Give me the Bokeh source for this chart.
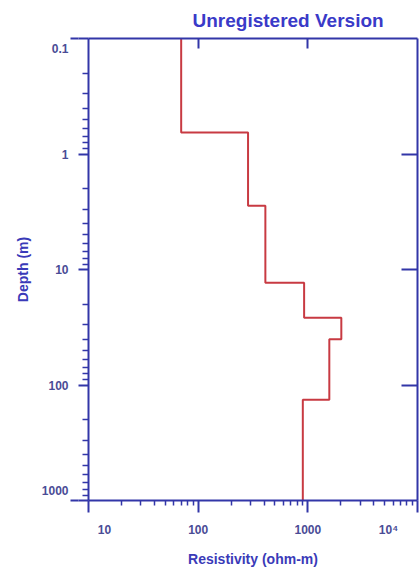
import math
from bokeh.plotting import figure
from bokeh.models import Range1d, FixedTicker, LogAxis, LinearAxis, LinearScale
from bokeh.embed import file_html
from bokeh.resources import INLINE

# Layered earth model: resistivity per layer and depth of each layer base (m)
resistivity = [70, 285, 410, 925, 2020, 1570, 900]
layer_base = [0.65, 2.8, 13.0, 26.2, 40.1, 134.0]
depth_top, depth_bottom = 0.1, 1000.0
res_min, res_max = 10, 10000

# Axis ticks and tick labels
x_major = [10, 100, 1000, 10000]
x_minor = [m * d for d in (10, 100, 1000) for m in range(2, 10)]
x_labels = ["10", "100", "1000", "10\u2074"]
y_major = [0.1, 1, 10, 100, 1000]
y_minor = [round(m * d, 3) for d in (0.1, 1, 10, 100) for m in range(2, 10)]
y_labels = ["0.1", "1", "10", "100", "1000"]

AXIS = "#3236a8"
TICKLBL = "#4a4c96"
TITLE = "#3a3ab8"
RED = "#c83a42"
FONT = "Liberation Sans"

# Frame size in pixels, used to nudge the end labels inward
FRAME_W, FRAME_H = 329, 462
x_dec_px = FRAME_W / math.log10(res_max / res_min)
y_dec_px = FRAME_H / math.log10(depth_bottom / depth_top)

# Step profile: each layer is a vertical segment from its top to its base
tops = [depth_top] + layer_base
bases = layer_base + [depth_bottom]
xs, ys = [], []
for rho, t, b in zip(resistivity, tops, bases):
    xs += [rho, rho]
    ys += [t, b]

lx0, lx1 = math.log10(res_min), math.log10(res_max)
ly0, ly1 = math.log10(depth_top), math.log10(depth_bottom)

p = figure(width=419, height=569, output_backend="svg", toolbar_location=None,
           x_axis_type="log", y_axis_type="log",
           x_range=Range1d(res_min, res_max),
           y_range=Range1d(depth_bottom, depth_top),
           min_border_left=88, min_border_right=2, min_border_top=38,
           min_border_bottom=69)
# decade-unit (linear) ranges that carry the tick labels
p.extra_x_ranges = {"dec": Range1d(lx0, lx1)}
p.extra_y_ranges = {"dec": Range1d(ly1, ly0)}
p.extra_x_scales = {"dec": LinearScale()}
p.extra_y_scales = {"dec": LinearScale()}
p.outline_line_color = None
p.xgrid.visible = False
p.ygrid.visible = False
p.background_fill_color = "white"
p.border_fill_color = "white"

# Watermark along the top edge
p.title.text = "Unregistered Version"
p.title.align = "left"
p.title.offset = 104
p.title.standoff = 15
p.title.text_font = FONT
p.title.text_font_style = "bold"
p.title.text_font_size = "19px"
p.title.text_color = "#3a3ac8"

p.line(xs, ys, line_color=RED, line_width=2)


def style(ax):
    ax.axis_line_color = AXIS
    ax.axis_line_width = 2
    ax.major_tick_line_color = AXIS
    ax.minor_tick_line_color = AXIS
    ax.major_tick_line_width = 2
    ax.minor_tick_line_width = 1.5
    ax.major_label_text_font = FONT
    ax.major_label_text_font_style = "bold"
    ax.major_label_text_font_size = "12px"
    ax.major_label_text_color = TICKLBL
    ax.axis_label_text_font = FONT
    ax.axis_label_text_font_style = "bold"
    ax.axis_label_text_font_size = "14px"
    ax.axis_label_text_color = TITLE


def ticks_only(ax):
    ax.major_label_overrides = {t: "" for t in ax.ticker.ticks}
    ax.major_label_text_font_size = "0px"
    ax.major_label_standoff = 0


def labels_only(ax, labels, standoff):
    ax.axis_line_color = None
    ax.major_tick_line_color = None
    ax.major_tick_in = ax.major_tick_out = 0
    ax.major_label_overrides = dict(zip(ax.ticker.ticks, labels))
    ax.major_label_standoff = standoff


# Bottom axis: line and ticks
xa = p.xaxis[0]
style(xa)
xa.ticker = FixedTicker(ticks=x_major, minor_ticks=x_minor)
ticks_only(xa)
xa.major_tick_in, xa.major_tick_out = 0, 12
xa.minor_tick_in, xa.minor_tick_out = 0, 5

# Bottom labels; the two end labels are pulled in from the corners
x_pos = [math.log10(v) for v in x_major]
x_pos[0] += 16 / x_dec_px
x_pos[-1] -= 29 / x_dec_px
xl = LinearAxis(x_range_name="dec", ticker=FixedTicker(ticks=x_pos, minor_ticks=[]))
style(xl)
labels_only(xl, x_labels, 10)
xl.minor_tick_in = xl.minor_tick_out = 0
xl.axis_label = "Resistivity (ohm-m)"
xl.axis_label_standoff = 11
p.add_layout(xl, "below")

# Left axis: line and ticks
ya = p.yaxis[0]
style(ya)
ya.ticker = FixedTicker(ticks=y_major, minor_ticks=y_minor)
ticks_only(ya)
ya.major_tick_in, ya.major_tick_out = 0, 10
ya.minor_tick_in, ya.minor_tick_out = 0, 6

# Left labels; end labels pulled in, corner ticks extended outward
y_pos = [math.log10(v) for v in y_major]
y_pos[0] += 10 / y_dec_px
y_pos[-1] -= 10 / y_dec_px
yl = LinearAxis(y_range_name="dec",
                ticker=FixedTicker(ticks=y_pos, minor_ticks=[ly0, ly1]))
style(yl)
labels_only(yl, y_labels, 2)
yl.minor_tick_line_width = 2
yl.minor_tick_in, yl.minor_tick_out = 0, 8
yl.axis_label = "Depth (m)"
yl.axis_label_standoff = 8
p.add_layout(yl, "left")

# Top axis: inward ticks only
top = LogAxis(ticker=FixedTicker(ticks=[100, 1000], minor_ticks=[]))
style(top)
ticks_only(top)
top.major_tick_in, top.major_tick_out = 10, 0
top.minor_tick_in, top.minor_tick_out = 0, 0
p.add_layout(top, "above")

# Right axis: inward ticks only
right = LogAxis(ticker=FixedTicker(ticks=[1, 10, 100], minor_ticks=[]))
style(right)
ticks_only(right)
right.major_tick_in, right.major_tick_out = 16, 0
right.minor_tick_in, right.minor_tick_out = 0, 0
p.add_layout(right, "right")

open("out.html", "w").write(file_html(p, INLINE))
